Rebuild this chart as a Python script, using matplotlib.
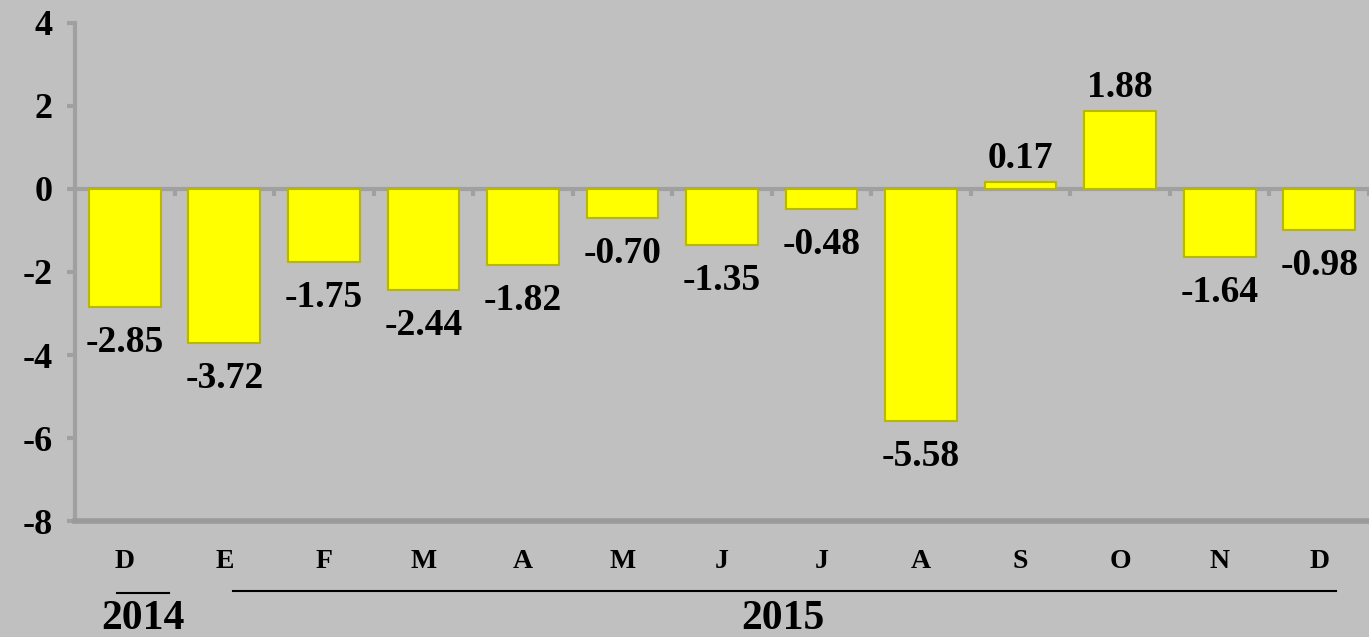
import matplotlib
matplotlib.use("Agg")
import matplotlib.pyplot as plt

months = ["D", "E", "F", "M", "A", "M", "J", "J", "A", "S", "O", "N", "D"]
values = [-2.85, -3.72, -1.75, -2.44, -1.82, -0.70, -1.35, -0.48, -5.58, 0.17, 1.88, -1.64, -0.98]
value_labels = ["-2.85", "-3.72", "-1.75", "-2.44", "-1.82", "-0.70", "-1.35", "-0.48", "-5.58", "0.17", "1.88", "-1.64", "-0.98"]
yticks = [-8, -6, -4, -2, 0, 2, 4]
years = ["2014", "2015"]

plt.rcParams['font.family'] = ['Liberation Serif', 'DejaVu Serif']
plt.rcParams['font.weight'] = 'bold'

bg = '#C0C0C0'
fig = plt.figure(figsize=(13.69, 6.37), dpi=100, facecolor=bg)
ax = fig.add_axes([0.0548, 0.1821, 0.9452, 0.7818])
ax.set_facecolor(bg)

x = list(range(len(values)))
ax.bar(x, values, width=0.72, color='#FFFF00', edgecolor='#B8B800', linewidth=1.5, zorder=3)

ax.set_xlim(-0.5, len(values) - 0.5)
ax.set_ylim(-8, 4)
ax.set_yticks(yticks)
ax.set_yticklabels([str(v) for v in yticks], fontsize=26, fontweight='bold')
ax.tick_params(axis='y', direction='out', length=6, width=3, color='#A0A0A0', pad=10)
ax.set_xticks(x)
ax.set_xticklabels(months, fontsize=20, fontweight='bold')
ax.tick_params(axis='x', length=0, pad=20)

for s in ['top', 'right']:
    ax.spines[s].set_visible(False)
ax.spines['left'].set_color('#A0A0A0')
ax.spines['left'].set_linewidth(3)
ax.spines['bottom'].set_color('#9A9A9A')
ax.spines['bottom'].set_linewidth(4)

# zero line with category ticks
ax.axhline(0, color='#A0A0A0', linewidth=3, zorder=2)
for b in range(len(values) + 1):
    ax.plot([b - 0.5, b - 0.5], [0, -0.18], color='#A0A0A0', linewidth=3, zorder=2,
            solid_capstyle='butt')

for xi, v, lab in zip(x, values, value_labels):
    if v < 0:
        ax.annotate(lab, (xi, v), xytext=(0, -13), textcoords='offset points',
                    ha='center', va='top', fontsize=27, fontweight='bold', zorder=4)
    else:
        ax.annotate(lab, (xi, v), xytext=(0, 4), textcoords='offset points',
                    ha='center', va='bottom', fontsize=27, fontweight='bold', zorder=4)

# year labels and bracket lines (figure coords)
W, H = 1369, 637
fig.add_artist(plt.Line2D([117 / W, 169 / W], [1 - 593 / H, 1 - 593 / H], color='black', linewidth=1.5))
fig.add_artist(plt.Line2D([233 / W, 1336 / W], [1 - 591 / H, 1 - 591 / H], color='black', linewidth=1.5))
fig.text(143 / W, 1 - 619 / H, years[0], ha='center', va='center', fontsize=30, fontweight='bold')
fig.text(783 / W, 1 - 619 / H, years[1], ha='center', va='center', fontsize=30, fontweight='bold')

fig.savefig("out.png", dpi=100, facecolor=bg)
